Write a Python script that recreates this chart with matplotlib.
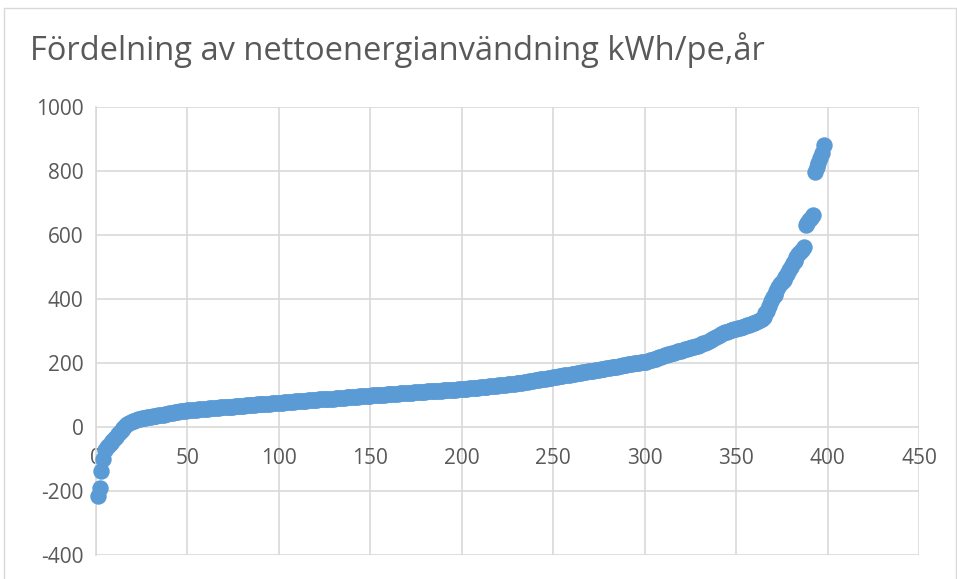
import numpy as np
import matplotlib.pyplot as plt
from matplotlib.patches import Rectangle

# nettoenergianvändning per objekt, sorterat stigande (kWh/pe,år)
values = [
    -216, -190, -136, -100, -72, -62, -56, -50, -44, -37,
    -30, -23, -15, -8, -2, 4, 8, 12, 15, 18,
    20, 22, 24, 26, 27, 28, 29, 30, 31, 32,
    33, 34, 35, 36, 37, 38, 39, 40, 42, 43,
    44, 45, 46, 47, 48, 49, 50, 50, 51, 52,
    52, 53, 53, 54, 54, 55, 55, 56, 56, 57,
    57, 58, 58, 59, 59, 60, 60, 61, 61, 62,
    62, 63, 63, 64, 64, 65, 65, 66, 66, 67,
    67, 68, 68, 69, 69, 70, 70, 71, 71, 72,
    72, 72, 73, 73, 73, 74, 74, 74, 75, 75,
    76, 76, 77, 77, 78, 78, 79, 79, 80, 80,
    80, 81, 81, 82, 82, 83, 83, 84, 84, 85,
    85, 86, 86, 86, 87, 87, 88, 88, 89, 89,
    90, 90, 91, 91, 92, 92, 93, 93, 94, 94,
    95, 95, 95, 96, 96, 97, 97, 97, 98, 98,
    99, 99, 99, 100, 100, 101, 101, 101, 102, 102,
    103, 103, 103, 104, 104, 105, 105, 105, 106, 106,
    107, 107, 107, 108, 108, 109, 109, 109, 110, 110,
    111, 111, 111, 112, 112, 113, 113, 114, 114, 115,
    115, 115, 116, 116, 117, 117, 117, 118, 118, 119,
    119, 120, 120, 121, 121, 122, 122, 123, 123, 124,
    124, 125, 126, 126, 127, 127, 128, 128, 129, 130,
    130, 131, 131, 132, 133, 133, 134, 135, 135, 136,
    137, 138, 139, 140, 141, 142, 143, 144, 145, 146,
    147, 148, 149, 150, 150, 151, 152, 153, 154, 155,
    156, 157, 158, 159, 160, 161, 162, 163, 164, 165,
    166, 167, 168, 169, 170, 171, 172, 173, 174, 175,
    175, 176, 177, 178, 179, 180, 181, 182, 183, 184,
    185, 186, 187, 188, 189, 190, 191, 193, 194, 195,
    196, 197, 198, 199, 200, 200, 201, 202, 203, 204,
    204, 206, 208, 210, 212, 214, 216, 218, 220, 222,
    224, 226, 228, 229, 231, 232, 234, 236, 238, 239,
    241, 243, 244, 246, 248, 249, 251, 252, 254, 256,
    258, 261, 264, 267, 270, 273, 276, 279, 282, 285,
    288, 291, 294, 296, 298, 300, 302, 303, 305, 306,
    308, 310, 312, 314, 316, 318, 320, 322, 324, 326,
    328, 330, 333, 338, 345, 355, 362, 378, 395, 405,
    412, 424, 436, 446, 452, 459, 468, 478, 490, 500,
    511, 520, 530, 540, 548, 553, 562, 632, 638, 646,
    654, 662, 798, 812, 826, 840, 855, 881,
]
index = np.arange(1, len(values) + 1)

x_ticks = [0, 50, 100, 150, 200, 250, 300, 350, 400, 450]
y_ticks = [-400, -200, 0, 200, 400, 600, 800, 1000]
title = 'Fördelning av nettoenergianvändning kWh/pe,år'

text_color = '#595959'
grid_color = '#D9D9D9'
point_color = '#5B9BD5'

plt.rcParams['font.family'] = ['Open Sans', 'DejaVu Sans']

fig = plt.figure(figsize=(9.57, 5.79), dpi=100)
# ram runt hela diagrammet
fig.patches.append(Rectangle((4 / 957, -0.01), 952 / 957, 1 - 8 / 579 + 0.01,
                             transform=fig.transFigure, fill=False,
                             edgecolor=grid_color, linewidth=1))

ax = fig.add_axes([96 / 957, 1 - 555 / 579, (919 - 96) / 957, (555 - 107) / 579])
ax.scatter(index, values, s=140, color=point_color, linewidths=0, zorder=3,
           clip_on=False)

ax.set_xlim(0, 450)
ax.set_ylim(-400, 1000)
ax.set_xticks(x_ticks)
ax.set_yticks(y_ticks)
ax.set_xticklabels([str(t) for t in x_ticks])
ax.set_yticklabels([str(t) for t in y_ticks])

# x-axeln skär vid 0
ax.spines['bottom'].set_position(('data', 0))
for s in ['top', 'right', 'bottom']:
    ax.spines[s].set_visible(False)
ax.spines['left'].set_color(grid_color)
ax.spines['left'].set_linewidth(1.2)

for t in x_ticks:
    ax.axvline(t, color=grid_color, linewidth=1.2, zorder=1)
for t in y_ticks:
    ax.axhline(t, color=grid_color, linewidth=1.2, zorder=1)

ax.tick_params(axis='x', length=0, pad=15, labelsize=15, labelcolor=text_color)
ax.tick_params(axis='y', length=0, pad=9, labelsize=15, labelcolor=text_color)

fig.text(30 / 957, 1 - 50 / 579, title, ha='left', va='center',
         fontsize=23.5, color=text_color)

fig.savefig('out.png', dpi=100)
